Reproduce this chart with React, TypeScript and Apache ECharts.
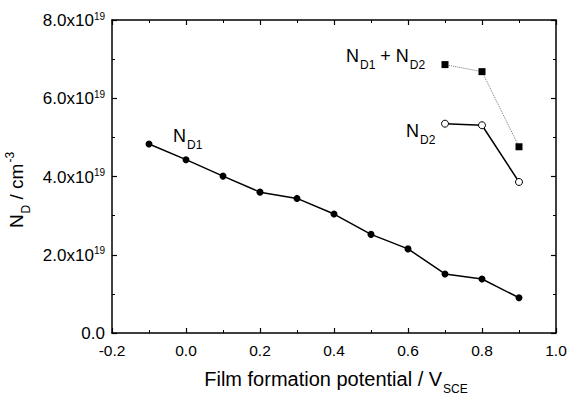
import React, { useEffect, useRef } from "react";
import * as echarts from "echarts";

const potentials = [-0.1, 0.0, 0.1, 0.2, 0.3, 0.4, 0.5, 0.6, 0.7, 0.8, 0.9];
const nd1 = [4.83, 4.43, 4.01, 3.6, 3.44, 3.04, 2.52, 2.15, 1.51, 1.38, 0.9];
const sumPotentials = [0.7, 0.8, 0.9];
const nd1PlusNd2 = [6.86, 6.68, 4.76];
const nd2 = [5.35, 5.31, 3.86];
const xTicks = [-0.2, 0.0, 0.2, 0.4, 0.6, 0.8, 1.0];
const yTicks = [0, 2, 4, 6, 8];

const FONT = "'Liberation Sans', Arial, sans-serif";
const E = 1e19;

const labelRich = {
  a: { fontSize: 18, fontFamily: FONT, fill: "#000", lineHeight: 22, verticalAlign: "bottom" },
  s: { fontSize: 12, fontFamily: FONT, fill: "#000", lineHeight: 12, verticalAlign: "bottom", padding: [0, 0, -6, 1] },
};

export default function App() {
  const ref = useRef<HTMLDivElement>(null);
  useEffect(() => {
    if (!ref.current) return;
    const chart = echarts.init(ref.current, undefined, { renderer: "svg" });
    const toPairs = (xs: number[], ys: number[]) => xs.map((x, i) => [x, ys[i] * E]);
    const axisCommon = {
      axisLine: { show: true, onZero: false, lineStyle: { color: "#000", width: 1.5 } },
      axisTick: { show: true, inside: true, length: 5, lineStyle: { color: "#000", width: 1.2 } },
      minorTick: { show: true, splitNumber: 2, length: 3, lineStyle: { color: "#000", width: 1 } },
      splitLine: { show: false },
    };
    const xBase = { type: "value", min: -0.2, max: 1.0, interval: 0.2, ...axisCommon };
    const yBase = { type: "value", min: 0, max: 8 * E, interval: 2 * E, ...axisCommon };
    chart.setOption({
      animation: false,
      textStyle: { fontFamily: FONT },
      grid: { left: 112, top: 20, right: 20, bottom: 63, containLabel: false, outerBoundsMode: "none" },
      xAxis: [
        {
          ...xBase,
          position: "bottom",
          axisLabel: {
            color: "#000",
            fontSize: 15.5,
            fontFamily: FONT,
            margin: 9,
            formatter: (v: number) => {
              const t = xTicks.find((k) => Math.abs(k - v) < 1e-6);
              return t === undefined ? "" : t.toFixed(1);
            },
          },
          name: "{a|Film formation potential / V}{s|SCE}",
          nameLocation: "middle",
          nameGap: 34,
          nameTextStyle: {
            padding: [0, 0, 0, 4],
            rich: {
              a: { fontSize: 20, fontFamily: FONT, color: "#000", lineHeight: 22, verticalAlign: "bottom" },
              s: { fontSize: 12, fontFamily: FONT, color: "#000", lineHeight: 12, verticalAlign: "bottom", padding: [0, 0, -6, 1] },
            },
          },
        },
        { ...xBase, position: "top", axisLabel: { show: false } },
      ],
      yAxis: [
        {
          ...yBase,
          position: "left",
          axisLabel: {
            color: "#000",
            margin: 7,
            formatter: (v: number) => {
              const t = yTicks.find((k) => Math.abs(k * E - v) < 1e10);
              if (t === undefined) return "";
              if (t === 0) return "{a|0.0}";
              return "{a|" + t.toFixed(1) + "x10}{s|19}";
            },
            rich: {
              a: { fontSize: 17, fontFamily: FONT, color: "#000", lineHeight: 18, verticalAlign: "bottom" },
              s: { fontSize: 10, fontFamily: FONT, color: "#000", lineHeight: 10, verticalAlign: "top", padding: [0, 0, 8, 0] },
            },
          },
          name: "{a|N}{s|D}{a| / cm}{p|-3}",
          nameLocation: "middle",
          nameGap: 74,
          nameRotate: 90,
          nameTextStyle: {
            padding: [0, 27, 0, 0],
            rich: {
              a: { fontSize: 19, fontFamily: FONT, color: "#000", lineHeight: 22, verticalAlign: "bottom" },
              s: { fontSize: 12, fontFamily: FONT, color: "#000", lineHeight: 12, verticalAlign: "bottom", padding: [0, 0, -6, 1] },
              p: { fontSize: 12, fontFamily: FONT, color: "#000", lineHeight: 12, verticalAlign: "top", padding: [0, 0, 10, 1] },
            },
          },
        },
        { ...yBase, position: "right", axisLabel: { show: false } },
      ],
      series: [
        {
          name: "ND1",
          type: "line",
          data: toPairs(potentials, nd1),
          symbol: "circle",
          symbolSize: 7,
          itemStyle: { color: "#000" },
          lineStyle: { color: "#000", width: 1.5 },
        },
        {
          name: "ND1+ND2",
          type: "line",
          data: toPairs(sumPotentials, nd1PlusNd2),
          symbol: "rect",
          symbolSize: 7,
          itemStyle: { color: "#000" },
          lineStyle: { color: "#777", width: 1, type: "dotted" },
        },
        {
          name: "ND2",
          type: "line",
          data: toPairs(sumPotentials, nd2),
          symbol: "circle",
          symbolSize: 7,
          itemStyle: { color: "#fff", borderColor: "#000", borderWidth: 1 },
          lineStyle: { color: "#000", width: 1.5 },
        },
      ],
      graphic: [
        { type: "text", left: 173, top: 127, style: { text: "{a|N}{s|D1}", rich: labelRich } },
        { type: "text", left: 346, top: 47, style: { text: "{a|N}{s|D1}{a| + N}{s|D2}", rich: labelRich } },
        { type: "text", left: 406, top: 122, style: { text: "{a|N}{s|D2}", rich: labelRich } },
      ],
    });
    return () => chart.dispose();
  }, []);
  return (
    <div
      ref={ref}
      style={{ position: "absolute", left: 0, top: 0, width: 576, height: 396, background: "#fff" }}
    />
  );
}
